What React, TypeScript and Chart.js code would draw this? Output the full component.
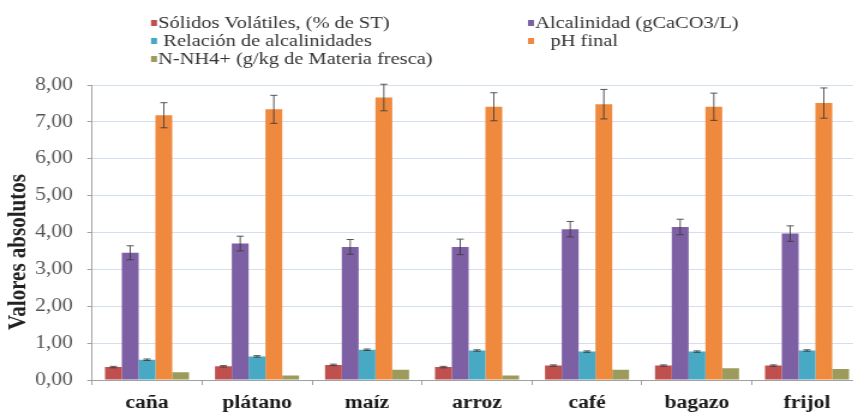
import React, { useEffect, useRef } from "react";
import { Chart, registerables } from "chart.js";

Chart.register(...registerables);

// Categories (residue types)
const categories = ["caña", "plátano", "maíz", "arroz", "café", "bagazo", "frijol"];

// Series labels, in drawing order
const seriesLabels = [
  "Sólidos Volátiles, (% de ST)",
  "Alcalinidad (gCaCO3/L)",
  " Relación de alcalinidades",
  "   pH final",
  "N-NH4+ (g/kg de Materia fresca)",
];

const seriesColors = ["#c0504d", "#7d5fa3", "#47a9c4", "#ee893d", "#9c9b5c"];

// Values and their error margins
const solidosVolatiles = [0.35, 0.37, 0.41, 0.35, 0.39, 0.39, 0.39];
const solidosVolatilesErr = [0.02, 0.02, 0.02, 0.02, 0.02, 0.02, 0.02];

const alcalinidad = [3.45, 3.7, 3.61, 3.61, 4.09, 4.15, 3.97];
const alcalinidadErr = [0.19, 0.2, 0.2, 0.21, 0.21, 0.21, 0.21];

const relacionAlcalinidades = [0.55, 0.64, 0.82, 0.8, 0.77, 0.77, 0.8];
const relacionAlcalinidadesErr = [0.02, 0.02, 0.02, 0.02, 0.02, 0.02, 0.02];

const phFinal = [7.18, 7.34, 7.66, 7.41, 7.48, 7.41, 7.51];
const phFinalErr = [0.34, 0.38, 0.36, 0.38, 0.4, 0.37, 0.41];

const nNH4 = [0.21, 0.12, 0.28, 0.12, 0.28, 0.32, 0.3];

// Y axis range
const yMin = 0;
const yMax = 8;
const yStep = 1;
const yTitle = "Valores absolutos";

const FAMILY = "Liberation Serif";
const FONT = `'${FAMILY}', 'Times New Roman', serif`;

// The chart is drawn on a narrower canvas and widened horizontally.
const SX = 1.2;
const CANVAS_W = 730;
const CANVAS_H = 414;

const errorBarsPlugin = {
  id: "errorBars",
  afterDatasetsDraw(chart: any) {
    const { ctx } = chart;
    const yScale = chart.scales.y;
    chart.data.datasets.forEach((ds: any, i: number) => {
      const errs: number[] | undefined = ds.errors;
      if (!errs) return;
      const meta = chart.getDatasetMeta(i);
      meta.data.forEach((bar: any, j: number) => {
        const e = errs[j];
        if (!e) return;
        const v = ds.data[j] as number;
        const top = yScale.getPixelForValue(v + e);
        const bot = yScale.getPixelForValue(v - e);
        ctx.save();
        ctx.strokeStyle = "rgba(60,60,60,0.85)";
        ctx.lineWidth = 1;
        ctx.beginPath();
        ctx.moveTo(bar.x, top);
        ctx.lineTo(bar.x, bot);
        ctx.moveTo(bar.x - 3, top);
        ctx.lineTo(bar.x + 3, top);
        ctx.moveTo(bar.x - 3, bot);
        ctx.lineTo(bar.x + 3, bot);
        ctx.stroke();
        ctx.restore();
      });
    });
  },
};

// Two-column legend above the plot plus the rotated axis title
const legendPlugin = {
  id: "gridLegend",
  afterDraw(chart: any) {
    const { ctx } = chart;
    const cols = [125.8, 440];
    const rows = [23, 41, 59];
    ctx.save();
    ctx.font = `17px ${FONT}`;
    ctx.textBaseline = "middle";
    ctx.textAlign = "left";
    chart.data.datasets.forEach((ds: any, i: number) => {
      const x = cols[i % 2];
      const y = rows[Math.floor(i / 2)];
      ctx.fillStyle = ds.backgroundColor;
      ctx.fillRect(x, y - 3, 5, 6);
      ctx.fillStyle = "#333";
      ctx.fillText(ds.label, x + 6, y + 1);
    });

    ctx.translate(15.8, 252);
    ctx.rotate(-Math.PI / 2);
    ctx.font = `bold 21px ${FONT}`;
    ctx.textAlign = "center";
    ctx.fillStyle = "#222";
    ctx.fillText(yTitle, 0, 0);
    ctx.restore();
  },
};

export default function App() {
  const ref = useRef<HTMLCanvasElement>(null);

  useEffect(() => {
    let chart: Chart | null = null;
    let cancelled = false;

    const build = () => {
      if (cancelled || !ref.current) return;
      const values = [solidosVolatiles, alcalinidad, relacionAlcalinidades, phFinal, nNH4];
      const errors = [solidosVolatilesErr, alcalinidadErr, relacionAlcalinidadesErr, phFinalErr, undefined];
      chart = new Chart(ref.current, {
        type: "bar",
        data: {
          labels: categories,
          datasets: values.map((d, i) => ({
            label: seriesLabels[i],
            data: d,
            errors: errors[i],
            backgroundColor: seriesColors[i],
            borderWidth: 0,
            categoryPercentage: 0.764,
            barPercentage: 1.0,
          })) as any,
        },
        options: {
          responsive: false,
          animation: false,
          layout: { padding: { top: 85, right: 11.67, bottom: 0, left: 0 } },
          plugins: {
            legend: { display: false },
            tooltip: { enabled: false },
            title: { display: false },
          },
          scales: {
            x: {
              grid: {
                display: true,
                drawOnChartArea: false,
                drawTicks: true,
                tickLength: 5,
                color: "#a0a0a0",
                offset: true,
              },
              border: { color: "#a0a0a0" },
              ticks: {
                color: "#1a1a1a",
                font: { family: FONT, size: 18, weight: "bold" },
                padding: 8,
                maxRotation: 0,
              },
              afterFit(s: any) {
                s.height = 34;
              },
            },
            y: {
              min: yMin,
              max: yMax,
              ticks: {
                stepSize: yStep,
                color: "#555",
                font: { family: FONT, size: 18 },
                padding: 12,
                callback: (v: any) => Number(v).toFixed(2).replace(".", ","),
              },
              grid: { color: "#d3deee", tickColor: "#a0a0a0", tickLength: 4 },
              border: { color: "#a0a0a0" },
              afterFit(s: any) {
                s.width = 76.67;
              },
            },
          },
        } as any,
        plugins: [errorBarsPlugin, legendPlugin],
      });
    };

    const fonts = (document as any).fonts;
    if (fonts && fonts.load) {
      Promise.all([
        fonts.load(`17px "${FAMILY}"`),
        fonts.load(`bold 18px "${FAMILY}"`),
      ])
        .catch(() => undefined)
        .then(build);
    } else {
      build();
    }

    return () => {
      cancelled = true;
      if (chart) chart.destroy();
    };
  }, []);

  return (
    <div
      style={{
        position: "fixed",
        left: 0,
        top: 0,
        width: 853,
        height: 414,
        overflow: "hidden",
        background: "#fff",
      }}
    >
      <div
        style={{
          width: CANVAS_W,
          height: CANVAS_H,
          transform: `scaleX(${SX})`,
          transformOrigin: "0 0",
        }}
      >
        <canvas ref={ref} width={CANVAS_W} height={CANVAS_H} style={{ display: "block" }} />
      </div>
    </div>
  );
}
